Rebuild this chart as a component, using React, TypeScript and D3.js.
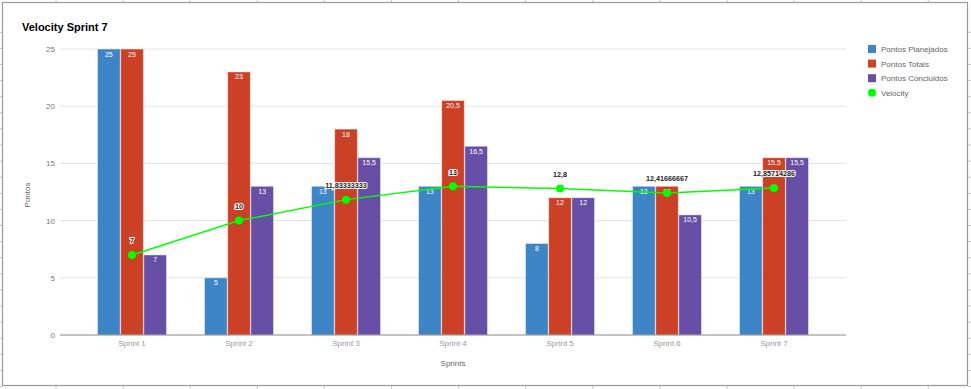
import React from "react";
import * as d3 from "d3";

const categories = ["Sprint 1", "Sprint 2", "Sprint 3", "Sprint 4", "Sprint 5", "Sprint 6", "Sprint 7"];
const planejados = [25, 5, 13, 13, 8, 13, 13];
const totais = [25, 23, 18, 20.5, 12, 13, 15.5];
const concluidos = [7, 13, 15.5, 16.5, 12, 10.5, 15.5];
const velocity = [7, 10, 11.83333333, 13, 12.8, 12.41666667, 12.85714286];
const velocityLabels = ["7", "10", "11,83333333", "13", "12,8", "12,41666667", "12,85714286"];
const yTicks = [0, 5, 10, 15, 20, 25];
const seriesNames = ["Pontos Planejados", "Pontos Totais", "Pontos Concluidos"];
const seriesColors = ["#3d85c6", "#cc4125", "#674ea7"];
const lineName = "Velocity";
const lineColor = "#00ff00";

const W = 971;
const H = 389;
const FONT = "'Liberation Sans', Arial, sans-serif";

const fmt = (v: number) => String(v).replace(".", ",");

export default function App() {
  const x = d3.scaleBand<string>().domain(categories).range([60, 846]).paddingInner(0).paddingOuter(0.173);
  const y = d3.scaleLinear().domain([0, 25]).range([335, 49]);
  const groupW = 69;
  const xi = d3.scaleBand<number>().domain([0, 1, 2]).range([0, groupW]).paddingInner(0.02);
  const off = (x.bandwidth() - groupW) / 2;
  const series = [planejados, totais, concluidos];
  const cx = (c: string) => (x(c) as number) + x.bandwidth() / 2;

  const line = d3
    .line<number>()
    .x((_, i) => cx(categories[i]))
    .y((d) => y(d))
    .curve(d3.curveLinear);

  const topTicks = d3.range(56, 971, 67.1);
  const sideTicks = d3.range(32.3, 389, 16.1);

  return (
    <div style={{ position: "fixed", left: 0, top: 0 }}>
      <svg width={W} height={H} style={{ display: "block", fontFamily: FONT }}>
        <rect x={0} y={0} width={W} height={H} fill="#fff" />
        {topTicks.map((t, i) => (
          <g key={"tt" + i}>
            <line x1={t} x2={t} y1={0} y2={2} stroke="#c8c8c8" />
            <line x1={t} x2={t} y1={386} y2={389} stroke="#c8c8c8" />
          </g>
        ))}
        {sideTicks.map((t, i) => (
          <g key={"st" + i}>
            <line x1={0} x2={2} y1={t} y2={t} stroke="#c8c8c8" />
            <line x1={968} x2={971} y1={t} y2={t} stroke="#c8c8c8" />
          </g>
        ))}
        <rect x={2.5} y={2.5} width={965} height={383} fill="#fff" stroke="#9a9a9a" strokeWidth={1.2} />

        <text x={22} y={30.5} fontSize={11} fontWeight="bold" fill="#000">
          Velocity Sprint 7
        </text>

        {yTicks.map((t) => (
          <g key={"g" + t}>
            {t !== 0 && <line x1={60} x2={846} y1={y(t)} y2={y(t)} stroke="#e3e3e3" strokeWidth={1} />}
            <text x={55} y={y(t) + 3} fontSize={8} fill="#777" textAnchor="end">
              {t}
            </text>
          </g>
        ))}

        {series.map((vals, s) =>
          vals.map((v, i) => {
            const bx = (x(categories[i]) as number) + off + (xi(s) as number);
            const bw = xi.bandwidth();
            return (
              <g key={`b${s}-${i}`}>
                <rect
                  x={bx}
                  y={y(v)}
                  width={bw}
                  height={y(0) - y(v)}
                  fill={seriesColors[s]}
                  stroke="#ffffff"
                  strokeOpacity={0.45}
                  strokeWidth={1}
                />
                <text x={bx + bw / 2} y={y(v) + 7.5} fontSize={7} fill="#fff" textAnchor="middle">
                  {fmt(v)}
                </text>
              </g>
            );
          })
        )}

        <line x1={60} x2={846} y1={y(0)} y2={y(0)} stroke="#888" strokeWidth={1.2} />

        <path d={line(velocity) || ""} fill="none" stroke={lineColor} strokeWidth={1.5} />
        {velocity.map((v, i) => (
          <circle key={"c" + i} cx={cx(categories[i])} cy={y(v)} r={4} fill={lineColor} />
        ))}
        {velocity.map((v, i) => (
          <text
            key={"vl" + i}
            x={cx(categories[i])}
            y={y(v) - 11.5}
            fontSize={7.2}
            fontWeight="bold"
            fill="#222"
            stroke="#fff"
            strokeWidth={2}
            paintOrder="stroke"
            textAnchor="middle"
          >
            {velocityLabels[i]}
          </text>
        ))}

        {categories.map((c) => (
          <text key={"x" + c} x={cx(c)} y={346} fontSize={8} fill="#999" textAnchor="middle">
            {c}
          </text>
        ))}
        <text x={453} y={366} fontSize={8} fill="#666" textAnchor="middle">
          Sprints
        </text>
        <text transform={`translate(29.5,195) rotate(-90)`} fontSize={8} fill="#666" textAnchor="middle">
          Pontos
        </text>

        {seriesNames.map((n, i) => (
          <g key={"l" + n} transform={`translate(868,${49 + i * 14.6})`}>
            <rect x={0} y={-4} width={8} height={8} fill={seriesColors[i]} />
            <text x={13} y={3} fontSize={8} fill="#666">
              {n}
            </text>
          </g>
        ))}
        <g transform={`translate(868,${49 + 3 * 14.6})`}>
          <circle cx={4} cy={0} r={4} fill={lineColor} />
          <text x={13} y={3} fontSize={8} fill="#666">
            {lineName}
          </text>
        </g>
      </svg>
    </div>
  );
}
